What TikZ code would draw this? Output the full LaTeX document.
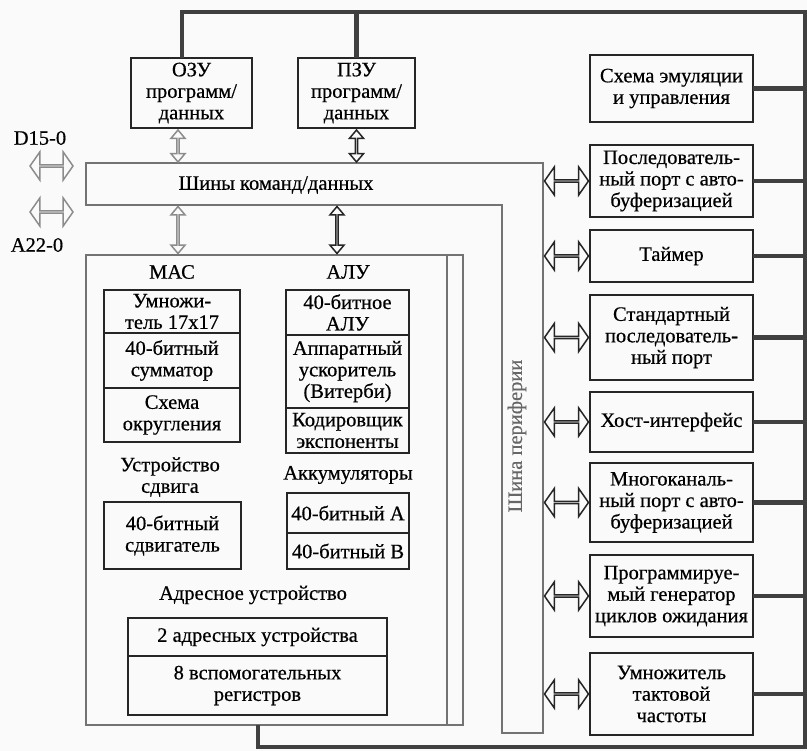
\documentclass[tikz,border=0pt]{standalone}
\usepackage{fontspec}
\setmainfont[BoldFont={Liberation Serif}, BoldFeatures={FakeBold=0.5}]{Liberation Serif}
\usetikzlibrary{positioning,shapes.arrows,calc}

\begin{document}
\begin{tikzpicture}[x=1pt, y=-1pt, font=\fontsize{20.5}{21.5}\selectfont\bfseries, node distance=13pt,
  blk/.style={draw=black!85, line width=2.2pt, align=center, inner sep=1pt, outer sep=0pt},
  cell/.style={blk, minimum width=136pt},
  pbox/.style={blk, minimum width=163pt},
  lbl/.style={align=center, inner sep=1pt},
  frame/.style={draw=black!55, line width=1.3pt},
  bus/.style={draw=black!75, line width=4.2pt},
  dbl/.style={draw=black!85, line width=1.5pt, double arrow, double arrow head extend=9pt, double arrow tip angle=110, minimum width=28pt, inner sep=0pt, outer sep=0pt},
  vdbl/.style={dbl, rotate=90, minimum width=14pt, double arrow head extend=4pt, double arrow tip angle=80},
  pale/.style={draw=black!45}]
\useasboundingbox[fill=gray!4] (0,0) rectangle (807,751);

% memory blocks on top
\node[blk, minimum width=121pt, minimum height=70pt] (ozu) at (191.5,93) {ОЗУ\\программ/\\данных};
\node[blk, minimum width=117pt, minimum height=70pt] (pzu) at (356.5,93) {ПЗУ\\программ/\\данных};

% command/data buses and peripheral bus
\coordinate (bustop) at (86,163);
\coordinate (busbot) at (86,205);
\coordinate (coretop) at (86,255);
\draw[frame] (bustop) -- (543,163) -- (543,733) -- (502,733) -- (502,205) -- (busbot) -- cycle;
\node[lbl] (cmdbus) at (276,185) {Шины команд/данных};
\node[lbl, rotate=90, text=black!60] (perbus) at (517,436) {Шина периферии};

% CPU core
\draw[frame] (coretop) rectangle (463,725);
\draw[frame] (447,255) -- (447,725);
\coordinate (corebot) at (258,725);

\node[lbl] (maclbl) at (172,272) {МАС};
\node[cell, minimum height=43pt] (mul) at (172,311.5) {Умножи-\\тель 17x17};
\node[cell, minimum height=55pt, below=0pt of mul] (add) {40-битный\\сумматор};
\node[cell, minimum height=54pt, below=0pt of add] (rnd) {Схема\\округления};

\node[lbl] (alulbl) at (348,272) {АЛУ};
\node[cell, minimum width=123pt, minimum height=45pt] (alu) at (347.5,312.5) {40-битное\\АЛУ};
\node[cell, minimum width=123pt, minimum height=73pt, below=0pt of alu] (vit) {Аппаратный\\ускоритель\\(Витерби)};
\node[cell, minimum width=123pt, minimum height=45pt, below=0pt of vit] (expo) {Кодировщик\\экспоненты};

\node[lbl] (shflbl) at (170,477) {Устройство\\сдвига};
\node[cell, minimum width=137pt, minimum height=67pt] (shf) at (172.5,535.5) {40-битный\\сдвигатель};

\node[lbl] (acclbl) at (348,475) {Аккумуляторы};
\node[cell, minimum width=122pt, minimum height=40pt] (acca) at (348,513) {40-битный А};
\node[cell, minimum width=122pt, minimum height=36pt, below=0pt of acca] (accb) {40-битный В};

\node[lbl] (agulbl) at (253,595) {Адресное устройство};
\node[cell, minimum width=259pt, minimum height=38pt] (agu) at (257.5,637) {2 адресных устройства};
\node[cell, minimum width=259pt, minimum height=59pt, below=0pt of agu] (aux) {8 вспомогательных\\регистров};

% peripherals
\node[pbox, minimum height=67pt] (emu) at (671.5,88.5) {Схема эмуляции\\и управления};
\node[pbox, minimum height=72pt, below=23pt of emu] (bsp) {Последователь-\\ный порт с авто-\\буферизацией};
\node[pbox, minimum height=52pt, below=of bsp] (tmr) {Таймер};
\node[pbox, minimum height=85pt, below=of tmr] (sp) {Стандартный\\последователь-\\ный порт};
\node[pbox, minimum height=60pt, below=12pt of sp] (hpi) {Хост-интерфейс};
\node[pbox, minimum height=79pt, below=11pt of hpi] (mcb) {Многоканаль-\\ный порт с авто-\\буферизацией};
\node[pbox, minimum height=82pt, below=of mcb] (wsg) {Программируе-\\мый генератор\\циклов ожидания};
\node[pbox, minimum height=82pt, below=16pt of wsg] (pll) {Умножитель\\тактовой\\частоты};

% external lines
\node[lbl] (dlbl) at (40,138) {D15-0};
\node[lbl] (albl) at (37,245) {A22-0};
\node[dbl, pale, minimum height=43pt] (darr) at (51.5,166) {};
\node[dbl, pale, minimum height=43pt] (aarr) at (51.5,212) {};

% bus arrows
\node[vdbl, pale, minimum height=32pt] (ozuarr) at (178,146) {};
\node[vdbl, minimum height=32pt] (pzuarr) at (pzu.south |- 0,146) {};
\node[vdbl, pale, minimum height=47pt] (macarr) at (178,230) {};
\node[vdbl, minimum height=47pt] (aluarr) at (337,230) {};
\foreach \p in {bsp,tmr,sp,hpi,mcb,wsg,pll}
  \node[dbl, minimum height=44pt, left=1.5pt of \p] (\p arr) {};

% thick system bus round the chip
\coordinate (tl) at (182,12);
\coordinate (tr) at (805,12);
\coordinate (br) at (805,747);
\coordinate (bl) at (258,747);
\draw[bus] (tl |- ozu.north) -- (tl) -- (tr) -- (br) -- (bl) -- (bl |- corebot);
\draw[bus] (pzu.north) -- (pzu.north |- tl);
\foreach \p in {emu,bsp,tmr,sp,hpi,mcb,wsg,pll}
  \draw[bus] (\p.east) -- (\p.east -| tr);
\end{tikzpicture}
\end{document}
